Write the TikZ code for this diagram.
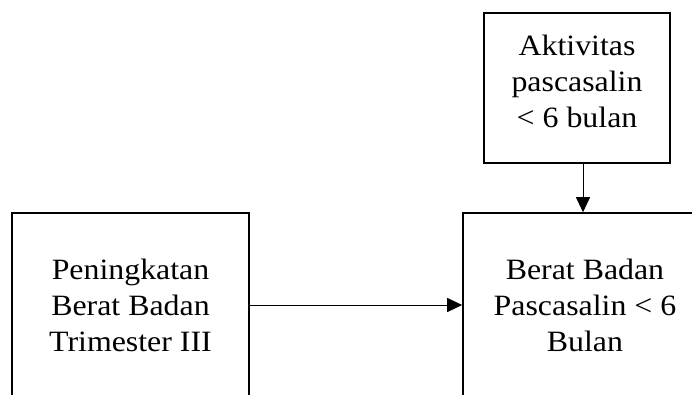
\documentclass[tikz,border=0pt]{standalone}
\usepackage{fontspec}
\setmainfont{Liberation Serif}[FakeStretch=1.08]
\usetikzlibrary{arrows.meta}

\begin{document}
\begin{tikzpicture}[x=1pt,y=1pt,
    kotak/.style={draw,line width=1.6pt,align=center,font=\fontsize{29.5}{36}\selectfont},
    panah/.style={line width=1pt,-{Triangle[length=15pt,width=14pt]}}]
                \useasboundingbox(0,0)rectangle(692,-394);
                \node[kotak,minimum width=237pt,minimum height=184pt](pbb)at(130.5,-305){Peningkatan\\Berat Badan\\Trimester III};
                \node[kotak,minimum width=244pt,minimum height=184pt](bbp)at(585,-305){Berat Badan\\Pascasalin < 6\\Bulan};
                \node[kotak,minimum width=186pt,minimum height=150pt](akt)at(577,-88){Aktivitas\\pascasalin\\< 6 bulan\\[-22pt]\mbox{}};
                \draw[panah](pbb)--(bbp);
                \draw[panah]([xshift=6pt]akt.south)--([xshift=6pt]akt.south|-bbp.north);
            \end{tikzpicture}
\end{document}
